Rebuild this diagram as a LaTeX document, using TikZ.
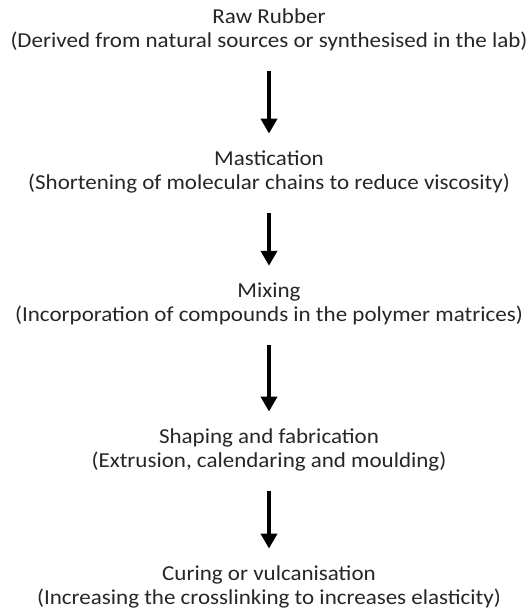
\documentclass[tikz,border=0pt]{standalone}
\usepackage{fontspec}
\setmainfont[FakeStretch=1.08]{Carlito}
\usetikzlibrary{arrows.meta}

\begin{document}
\begin{tikzpicture}[x=1pt,y=-1pt,
    stage/.style={align=center, font=\fontsize{21.3}{24}\selectfont, inner sep=0pt, text=black!85},
    flow/.style={-{Triangle[width=16pt,length=15pt]}, line width=4.5pt, shorten <=20pt, shorten >=17pt}]
    \useasboundingbox (0,0) rectangle (530,615);
    % stages of rubber processing
    \node[stage] (raw)  at (269,30)  {Raw Rubber\\(Derived from natural sources or synthesised in the lab)};
    \node[stage] (mast) at (269,172) {Mastication\\(Shortening of molecular chains to reduce viscosity)};
    \node[stage] (mix)  at (269,304) {Mixing\\(Incorporation of compounds in the polymer matrices)};
    \node[stage] (shap) at (269,450) {Shaping and fabrication\\(Extrusion, calendaring and moulding)};
    \node[stage] (cure) at (269,587) {Curing or vulcanisation\\(Increasing the crosslinking to increases elasticity)};
    % arrows between stages
    \draw[flow] (raw) -- (mast);
    \draw[flow] (mast) -- (mix);
    \draw[flow] (mix) -- (shap);
    \draw[flow] (shap) -- (cure);
\end{tikzpicture}
\end{document}
